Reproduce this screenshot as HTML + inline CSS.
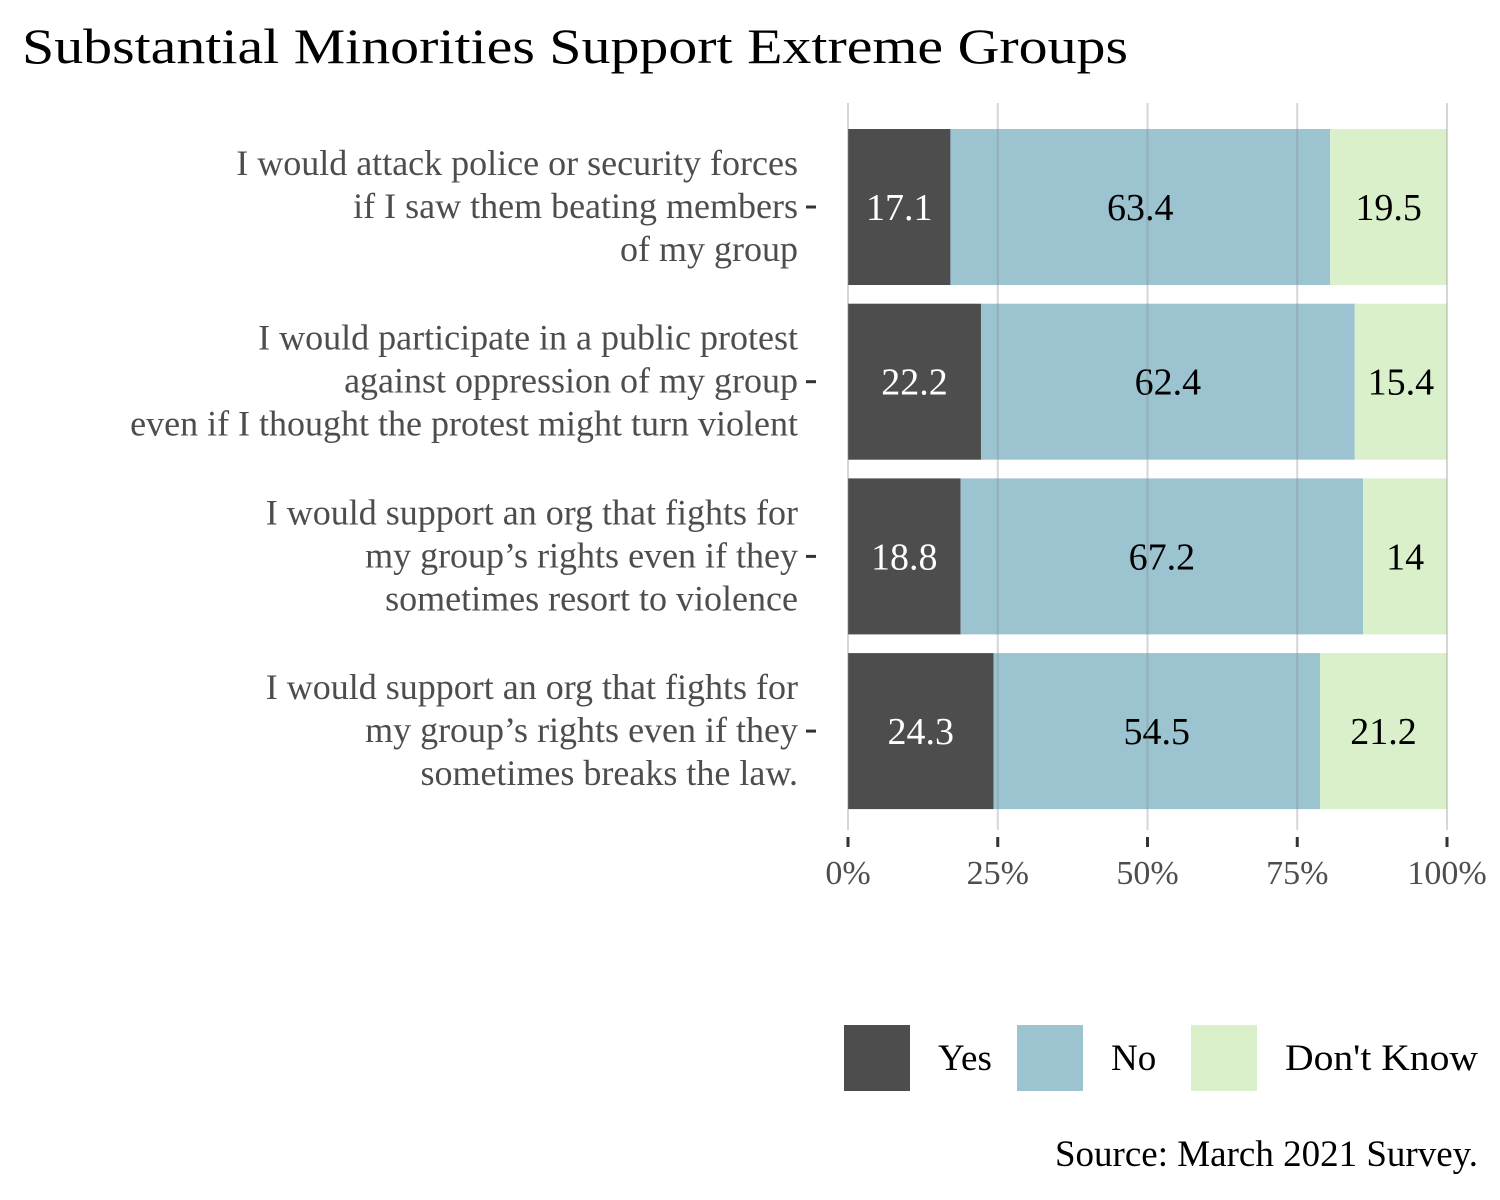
<!DOCTYPE html>
<html><head><meta charset="utf-8"><style>
body{margin:0;background:#fff}
svg{display:block;font-family:"Liberation Serif",serif}
</style></head><body>
<svg id="chart" width="1500" height="1200">
<text x="22" y="63" font-size="50" textLength="1106" lengthAdjust="spacingAndGlyphs" fill="#000">Substantial Minorities Support Extreme Groups</text>
<g id="grid"></g><g id="bars"></g><g id="ylabels"></g><g id="xaxis"></g>
<g>
<rect x="844" y="1025" width="66" height="66" fill="#4d4d4d"/>
<text x="938" y="1070" font-size="37">Yes</text>
<rect x="1017" y="1025" width="66" height="66" fill="#9cc3d0"/>
<text x="1111" y="1070" font-size="37">No</text>
<rect x="1191" y="1025" width="66" height="66" fill="#daf0cb"/>
<text x="1285" y="1070" font-size="37" textLength="193" lengthAdjust="spacingAndGlyphs">Don't Know</text>
</g>
<text x="1478" y="1166" font-size="37" text-anchor="end">Source: March 2021 Survey.</text>
</svg>
<script>
const categories=[
["I would attack police or security forces","if I saw them beating members","of my group"],
["I would participate in a public protest","against oppression of my group","even if I thought the protest might turn violent"],
["I would support an org that fights for","my group’s rights even if they","sometimes resort to violence"],
["I would support an org that fights for","my group’s rights even if they","sometimes breaks the law."]];
const yesVals=[17.1,22.2,18.8,24.3];
const noVals=[63.4,62.4,67.2,54.5];
const dkVals=[19.5,15.4,14,21.2];
const ticks=[0,25,50,75,100];
const tickLabels=["0%","25%","50%","75%","100%"];
const NS="http://www.w3.org/2000/svg";
const x=v=>848+v*5.99;
const yC=i=>207+i*174.7;
const bh=156;
function mk(p,t,a){const e=document.createElementNS(NS,t);for(const k in a)e.setAttribute(k,a[k]);document.getElementById(p).appendChild(e);return e;}
const series=[[yesVals,"#4d4d4d","#fff","yes"],[noVals,"#9cc3d0","#000","no"],[dkVals,"#daf0cb","#000","dont-know"]];
categories.forEach((c,i)=>{
  let s=0;
  series.forEach(([arr,col,tc,nm])=>{
    const v=arr[i];
    const r=mk("bars","rect",{x:x(s),y:yC(i)-bh/2,width:x(s+v)-x(s),height:bh,fill:col});
    
    
    const t=mk("bars","text",{x:(x(s)+x(s+v))/2,y:yC(i)+13,"font-size":38,"text-anchor":"middle",fill:tc});
    t.textContent=String(v);
    
    
    s+=v;
  });
  c.forEach((ln,j)=>{
    const t=mk("ylabels","text",{x:798,y:yC(i)-32+j*43,"font-size":36,"text-anchor":"end",fill:"#4d4d4d"});
    t.textContent=ln;
    
    
  });
  const tk=mk("ylabels","line",{x1:806,x2:816,y1:yC(i),y2:yC(i),stroke:"#333","stroke-width":3});
  
  
});
ticks.forEach((v,k)=>{
  const g=mk("bars","line",{x1:x(v),x2:x(v),y1:103,y2:830,stroke:"#8a8a8a","stroke-opacity":0.35,"stroke-width":2});
  
  
  const tk=mk("xaxis","line",{x1:x(v),x2:x(v),y1:837,y2:847,stroke:"#333","stroke-width":3});
  
  
  const t=mk("xaxis","text",{x:x(v),y:884,"font-size":34,"text-anchor":"middle",fill:"#4d4d4d"});
  t.textContent=tickLabels[k];
  
  
});
</script>
</body></html>
